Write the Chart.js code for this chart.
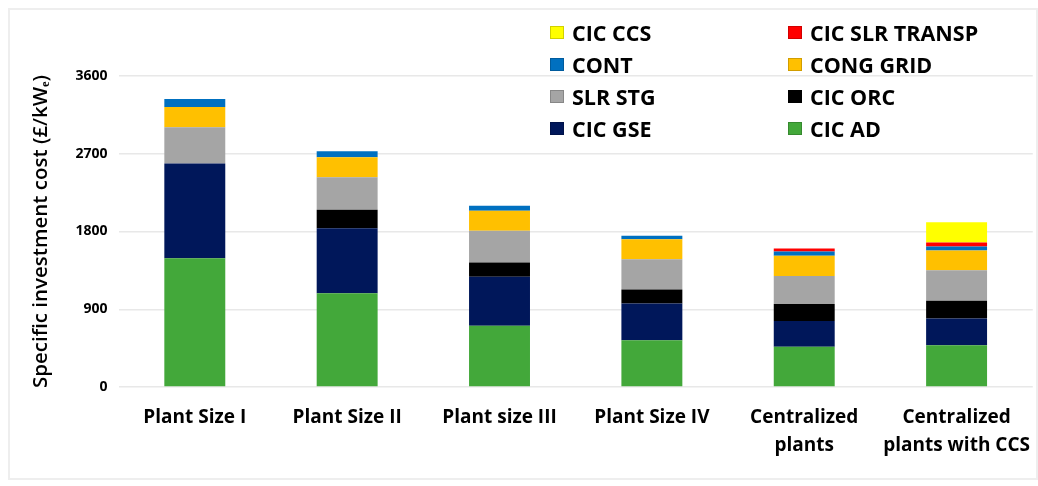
<!DOCTYPE html>
<html>
<head>
	<meta charset="utf-8">
	<title>Specific investment cost</title>
	<script src="https://cdn.jsdelivr.net/npm/chart.js@4.4.1/dist/chart.umd.min.js"></script>
	<style>
		html, body { margin: 0; padding: 0; background: #fff; }
		#wrap { position: relative; width: 1038px; height: 486px; }
		#frame {
			position: absolute; left: 8px; top: 8px; width: 1026px; height: 468px;
			border: 2px solid #eeeeee; pointer-events: none;
		}
		#legend {
			position: absolute; left: 550px; top: 20px;
			display: grid; grid-template-columns: 238px 240px; row-gap: 8px;
			font-family: "Open Sans", sans-serif; font-weight: bold; font-size: 21.5px; color: #000;
		}
		.item { display: flex; align-items: center; height: 24px; }
		.sw { width: 14px; height: 13px; margin-right: 8px; border: 1px solid rgba(0,0,0,0.18); box-sizing: border-box; }
	</style>
</head>
<body>
<div id="wrap">
	<canvas id="chart" width="1038" height="486"></canvas>
	<div id="frame"></div>
	<div id="legend"></div>
</div>
<script>
	const categories = [
		['Plant Size I'],
		['Plant Size II'],
		['Plant size III'],
		['Plant Size IV'],
		['Centralized', 'plants'],
		['Centralized', 'plants with CCS']
	];

	// stacked from the bottom up
	const cicAd = [1490, 1084, 708, 542, 465, 484];
	const cicGse = [1096, 755, 569, 426, 298, 309];
	const cicOrc = [0, 213, 163, 162, 197, 206];
	const slrStg = [422, 375, 368, 349, 325, 352];
	const congGrid = [232, 232, 232, 232, 233, 228];
	const cont = [93, 70, 58, 39, 50, 47];
	const cicSlrTransp = [0, 0, 0, 0, 35, 46];
	const cicCcs = [0, 0, 0, 0, 0, 236];

	const yTicks = [0, 900, 1800, 2700, 3600];

	const series = [
		{ label: 'CIC AD', data: cicAd, color: '#43a83a' },
		{ label: 'CIC GSE', data: cicGse, color: '#00175a' },
		{ label: 'CIC ORC', data: cicOrc, color: '#000000' },
		{ label: 'SLR STG', data: slrStg, color: '#a5a5a5' },
		{ label: 'CONG GRID', data: congGrid, color: '#ffc000' },
		{ label: 'CONT', data: cont, color: '#0070c0' },
		{ label: 'CIC SLR TRANSP', data: cicSlrTransp, color: '#ff0000' },
		{ label: 'CIC CCS', data: cicCcs, color: '#ffff00' }
	];

	// legend reads left to right, top to bottom
	const legendOrder = ['CIC CCS', 'CIC SLR TRANSP', 'CONT', 'CONG GRID', 'SLR STG', 'CIC ORC', 'CIC GSE', 'CIC AD'];

	const legend = document.getElementById('legend');
	legendOrder.forEach(name => {
		const s = series.find(x => x.label === name);
		const item = document.createElement('div');
		item.className = 'item';
		item.innerHTML = '<span class="sw" style="background:' + s.color + '"></span>' + name;
		legend.appendChild(item);
	});

	new Chart(document.getElementById('chart'), {
		type: 'bar',
		data: {
			labels: categories,
			datasets: series.map(s => ({
				label: s.label,
				data: s.data,
				backgroundColor: s.color,
				borderWidth: 0,
				barPercentage: 0.4,
				categoryPercentage: 1
			}))
		},
		options: {
			responsive: false,
			animation: false,
			layout: { padding: { top: 76, right: -5, bottom: 18, left: 29 } },
			plugins: {
				legend: { display: false },
				tooltip: { enabled: false }
			},
			scales: {
				x: {
					stacked: true,
					grid: { display: false },
					border: { display: false },
					ticks: {
						color: '#000',
						padding: 8,
						maxRotation: 0,
						font: { family: 'Open Sans', size: 19, weight: 'bold', lineHeight: 1.5 }
					}
				},
				y: {
					stacked: true,
					min: 0,
					max: 3600,
					afterBuildTicks: axis => { axis.ticks = yTicks.map(v => ({ value: v })); },
					grid: { color: '#e8e8e8', lineWidth: 1.5, drawTicks: false },
					border: { display: false },
					ticks: {
						color: '#000',
						padding: 11,
						callback: v => String(v),
						font: { family: 'Open Sans', size: 14, weight: 'bold' }
					},
					title: {
						display: true,
						text: 'Specific investment cost (£/kWₑ)',
						color: '#000',
						padding: { top: 0, bottom: 11 },
						font: { family: 'Open Sans', size: 20.5, weight: '600' }
					}
				}
			}
		}
	});
</script>
</body>
</html>
